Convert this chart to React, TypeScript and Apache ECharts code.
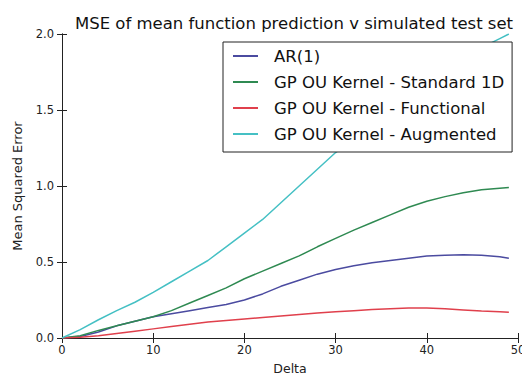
import React, { useEffect, useRef } from "react";
import * as echarts from "echarts";

const deltas = [0, 2, 4, 6, 8, 10, 12, 14, 16, 18, 20, 22, 24, 26, 28, 30, 32, 34, 36, 38, 40, 42, 44, 46, 48, 49];
const ar1 = [0, 0.01, 0.04, 0.08, 0.11, 0.14, 0.16, 0.18, 0.2, 0.22, 0.25, 0.29, 0.34, 0.38, 0.42, 0.45, 0.475, 0.495, 0.51, 0.525, 0.54, 0.545, 0.548, 0.545, 0.535, 0.525];
const standard1D = [0, 0.015, 0.05, 0.08, 0.11, 0.14, 0.18, 0.23, 0.28, 0.33, 0.39, 0.44, 0.49, 0.54, 0.6, 0.655, 0.71, 0.76, 0.81, 0.86, 0.9, 0.93, 0.955, 0.975, 0.985, 0.99];
const functional = [0, 0.005, 0.015, 0.03, 0.045, 0.06, 0.075, 0.09, 0.105, 0.115, 0.125, 0.135, 0.145, 0.155, 0.165, 0.173, 0.18, 0.187, 0.193, 0.197, 0.197, 0.192, 0.185, 0.178, 0.172, 0.169];
const augmented = [0, 0.055, 0.12, 0.18, 0.235, 0.3, 0.37, 0.44, 0.51, 0.6, 0.69, 0.78, 0.89, 1.0, 1.11, 1.22, 1.31, 1.4, 1.49, 1.57, 1.65, 1.73, 1.82, 1.91, 1.97, 2.0];

const seriesNames = [
  "AR(1)",
  "GP OU Kernel - Standard 1D",
  "GP OU Kernel - Functional",
  "GP OU Kernel - Augmented",
];
const seriesValues = [ar1, standard1D, functional, augmented];
const colors = ["#4b4ba0", "#2f8a52", "#e0404c", "#45c0c4"];

const FONT = "DejaVu Sans";

export default function App() {
  const ref = useRef<HTMLDivElement>(null);
  useEffect(() => {
    if (!ref.current) return;
    const chart = echarts.init(ref.current, null, { renderer: "svg" });
    const axisCommon = {
      min: 0,
      axisLine: { show: true, lineStyle: { color: "#222", width: 1 } },
      axisTick: { show: true, inside: true, length: 5, lineStyle: { color: "#222" } },
      splitLine: { show: false },
    };
    chart.setOption({
      animation: false,
      color: colors,
      title: {
        text: "MSE of mean function prediction v simulated test set",
        left: 289,
        textAlign: "center",
        top: 10,
        textStyle: { fontFamily: FONT, fontSize: 16.5, fontWeight: "normal", color: "#111" },
      },
      grid: { left: 62, right: 4, top: 34, bottom: 39, outerBoundsMode: "none", containLabel: false },
      legend: {
        orient: "vertical",
        left: 223,
        top: 42,
        padding: [4, 8, 8, 10],
        itemGap: 6,
        itemWidth: 25,
        itemHeight: 2,
        icon: "rect",
        backgroundColor: "#fff",
        borderColor: "#222",
        borderWidth: 1,
        textStyle: { fontFamily: FONT, fontSize: 16.5, color: "#111", lineHeight: 20, padding: [0, 0, 0, 11] },
        data: seriesNames,
      },
      xAxis: [
        {
          ...axisCommon,
          type: "value",
          max: 50,
          interval: 10,
          position: "bottom",
          name: "Delta",
          nameLocation: "middle",
          nameGap: 24,
          nameTextStyle: { fontFamily: FONT, fontSize: 12.5, color: "#222" },
          axisLabel: { fontFamily: FONT, fontSize: 11.5, color: "#222", margin: 6 },
        },
        {
          ...axisCommon,
          type: "value",
          max: 50,
          interval: 10,
          position: "top",
          axisLabel: { show: false },
        },
      ],
      yAxis: [
        {
          ...axisCommon,
          type: "value",
          max: 2,
          interval: 0.5,
          position: "left",
          name: "Mean Squared Error",
          nameLocation: "middle",
          nameGap: 38,
          nameTextStyle: { fontFamily: FONT, fontSize: 13, color: "#222" },
          axisLabel: {
            fontFamily: FONT,
            fontSize: 11.5,
            color: "#222",
            margin: 8,
            formatter: (v: number) => v.toFixed(1),
          },
        },
        {
          ...axisCommon,
          type: "value",
          max: 2,
          interval: 0.5,
          position: "right",
          axisLabel: { show: false },
        },
      ],
      series: seriesNames.map((name, i) => ({
        name,
        type: "line",
        symbol: "none",
        xAxisIndex: 0,
        yAxisIndex: 0,
        z: 2,
        lineStyle: { width: 1.5, color: colors[i] },
        itemStyle: { color: colors[i] },
        data: deltas.map((d, j) => [d, seriesValues[i][j]]),
      })),
    });
    return () => chart.dispose();
  }, []);
  return (
    <div
      ref={ref}
      style={{ position: "fixed", left: 0, top: 0, width: 522, height: 377, background: "#fff" }}
    />
  );
}
